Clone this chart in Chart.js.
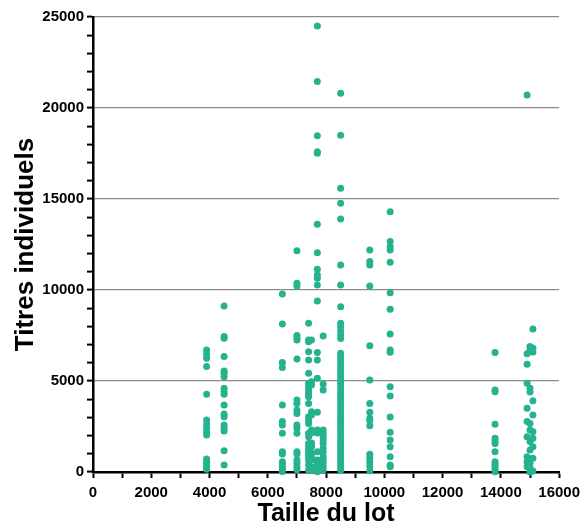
<!DOCTYPE html>
<html>
<head>
<meta charset="utf-8">
<script src="https://cdn.jsdelivr.net/npm/chart.js@4/dist/chart.umd.min.js"></script>
<style>
html,body{margin:0;padding:0;background:#fff;}
canvas{display:block;}
</style>
</head>
<body>
<canvas id="c" width="586" height="530"></canvas>
<script>
// Lot sizes (x) and individual titres (y) per lot size
const lot3900 = [6700, 6450, 6250, 5800, 4270, 2860, 2620, 2400, 2210, 2030, 710, 570, 440, 290, 150];
const lot4500 = [9120, 7450, 7350, 6340, 5550, 5420, 5240, 4600, 4410, 4270, 3680, 3190, 3040, 2580, 2400, 2250, 1170, 385];
const lot6500 = [9780, 8130, 6010, 5740, 3680, 2770, 2580, 2130, 1110, 990, 570, 440, 290, 150, 30];
const lot7000 = [12160, 10370, 10200, 7500, 7360, 7250, 6210, 3950, 3770, 3410, 3220, 2580, 2400, 2130, 1110, 990, 660, 480, 290, 130];
const lot7400 = [8170, 7250, 7160, 6610, 6150, 5420, 4870, 4690, 4510, 4320, 4130, 3770, 3040, 2860, 2670, 2130, 1940, 1570, 1390, 1210, 1030, 840, 660, 385, 110];
const lot7500 = [7250, 4960, 4780, 3310, 3130, 2310, 2140, 1590, 1390, 1030, 840, 660, 290, 110];
const lot7700 = [24510, 21450, 18480, 17600, 17510, 13610, 12050, 11140, 10830, 10640, 10280, 9400, 6560, 6150, 5150, 3280, 2310, 2140, 1110, 660, 480, 200, 20];
const lot7900 = [7470, 4840, 4510, 2310, 2130, 1940, 1760, 1570, 1300, 1080, 840, 660, 480, 290, 110];
const lot8500 = [20810, 18500, 15590, 14770, 13900, 11370, 10280, 9080, 8170, 7980, 7750, 7530, 7330, 6520, 6330, 6150, 5960, 5780, 5600, 5420, 5240, 5060, 4870, 4690, 4500, 4320, 4130, 3950, 3770, 3580, 3400, 3220, 3040, 2850, 2670, 2490, 2300, 2120, 1940, 1750, 1570, 1390, 1200, 1020, 840, 650, 470, 290, 100];
const lot9500 = [12200, 11560, 11370, 10220, 6940, 5060, 3770, 3280, 2950, 2820, 2540, 970, 770, 560, 330, 70];
const lot10200 = [14300, 12660, 12380, 12200, 11520, 9850, 8940, 7580, 6700, 6580, 4690, 4180, 3020, 2180, 1760, 1390, 840, 385, 290];
const lot13800 = [6560, 4510, 4410, 2620, 1850, 1700, 1570, 1110, 570, 420, 290, 150, 20];
const lot14900 = [20720, 6500, 5920, 4870, 3500, 2770, 1940, 840, 570, 290];
const lot15000 = [6900, 6700, 4600, 4400, 2670, 2310, 1670, 1210, 480, 200, 0];
const lot15100 = [7860, 6800, 6600, 3920, 3130, 2215, 1850, 1390, 750, 50];

const lotSizes = [3900, 4500, 6500, 7000, 7400, 7500, 7700, 7900, 8500, 9500, 10200, 13800, 14900, 15000, 15100];
const titres = [lot3900, lot4500, lot6500, lot7000, lot7400, lot7500, lot7700, lot7900, lot8500, lot9500, lot10200, lot13800, lot14900, lot15000, lot15100];

const xTickLabels = [0, 2000, 4000, 6000, 8000, 10000, 12000, 14000, 16000];
const yTickLabels = [0, 5000, 10000, 15000, 20000, 25000];

const points = [];
lotSizes.forEach((x, i) => titres[i].forEach(y => points.push({x: x, y: y})));

const FONT = '"Liberation Sans", Arial, sans-serif';

new Chart(document.getElementById('c'), {
  type: 'scatter',
  data: {
    datasets: [{
      data: points,
      backgroundColor: 'rgb(36,179,142)',
      borderColor: 'rgb(36,179,142)',
      borderWidth: 0,
      pointRadius: 3.5,
      clip: false
    }]
  },
  options: {
    responsive: false,
    animation: false,
    events: [],
    layout: { padding: { top: 17, right: 23, left: 0, bottom: 0 } },
    plugins: { legend: { display: false }, tooltip: { enabled: false } },
    scales: {
      x: {
        type: 'linear',
        min: 0, max: 16000,
        afterFit: s => { s.height = 58; },
        border: { color: '#000', width: 2.5 },
        grid: { display: true, drawOnChartArea: false, tickColor: '#000', tickLength: 6, tickWidth: 2 },
        ticks: {
          stepSize: 1000, autoSkip: false, maxRotation: 0, padding: 6,
          color: '#000',
          font: { family: FONT, size: 15, weight: 'bold' },
          callback: v => xTickLabels.includes(v) ? String(v) : ''
        },
        title: {
          display: true, text: 'Taille du lot', color: '#000',
          font: { family: FONT, size: 25, weight: 'bold' },
          padding: { top: 0, bottom: 1 }
        }
      },
      y: {
        type: 'linear',
        min: 0, max: 25000,
        afterFit: s => { s.width = 93; },
        border: { color: '#000', width: 2.5 },
        grid: {
          color: ctx => (ctx.tick && ctx.tick.value % 5000 === 0 && ctx.tick.value !== 0) ? '#8a8a8a' : 'rgba(0,0,0,0)',
          lineWidth: 1.2,
          tickColor: '#000', tickLength: 6, tickWidth: 2
        },
        ticks: {
          stepSize: 1000, autoSkip: false, padding: 3,
          color: '#000',
          font: { family: FONT, size: 15, weight: 'bold' },
          callback: v => yTickLabels.includes(v) ? String(v) : ''
        },
        title: {
          display: true, text: 'Titres individuels', color: '#000',
          font: { family: FONT, size: 26, weight: 'bold' },
          padding: { top: 10, bottom: 0 }
        }
      }
    }
  }
});
</script>
</body>
</html>
